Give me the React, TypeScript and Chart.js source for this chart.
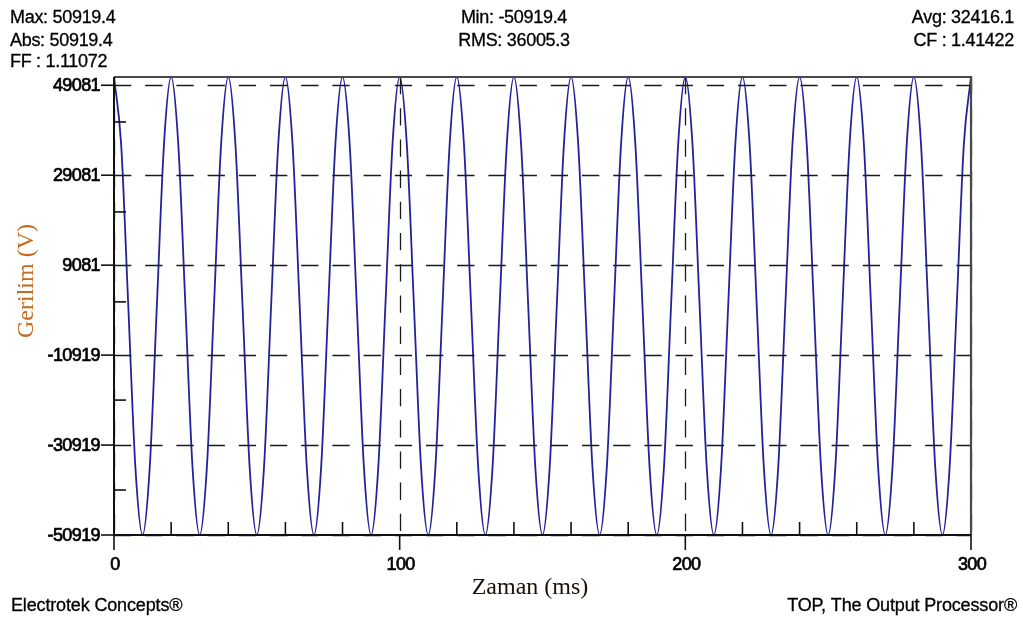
import { useEffect, useRef } from "react";
import { Chart, registerables } from "chart.js";
Chart.register(...registerables);

// Time samples (ms)
const timeMs = [
  0, 2.5, 5, 7.5, 10, 12.5, 15, 17.5,
  20, 22.5, 25, 27.5, 30, 32.5, 35, 37.5,
  40, 42.5, 45, 47.5, 50, 52.5, 55, 57.5,
  60, 62.5, 65, 67.5, 70, 72.5, 75, 77.5,
  80, 82.5, 85, 87.5, 90, 92.5, 95, 97.5,
  100, 102.5, 105, 107.5, 110, 112.5, 115, 117.5,
  120, 122.5, 125, 127.5, 130, 132.5, 135, 137.5,
  140, 142.5, 145, 147.5, 150, 152.5, 155, 157.5,
  160, 162.5, 165, 167.5, 170, 172.5, 175, 177.5,
  180, 182.5, 185, 187.5, 190, 192.5, 195, 197.5,
  200, 202.5, 205, 207.5, 210, 212.5, 215, 217.5,
  220, 222.5, 225, 227.5, 230, 232.5, 235, 237.5,
  240, 242.5, 245, 247.5, 250, 252.5, 255, 257.5,
  260, 262.5, 265, 267.5, 270, 272.5, 275, 277.5,
  280, 282.5, 285, 287.5, 290, 292.5, 295, 297.5,
  300,
];

// Voltage samples (V)
const voltage = [
  50919, 36005, 0, -36005, -50919, -36005, 0, 36005,
  50919, 36005, 0, -36005, -50919, -36005, 0, 36005,
  50919, 36005, 0, -36005, -50919, -36005, 0, 36005,
  50919, 36005, 0, -36005, -50919, -36005, 0, 36005,
  50919, 36005, 0, -36005, -50919, -36005, 0, 36005,
  50919, 36005, 0, -36005, -50919, -36005, 0, 36005,
  50919, 36005, 0, -36005, -50919, -36005, 0, 36005,
  50919, 36005, 0, -36005, -50919, -36005, 0, 36005,
  50919, 36005, 0, -36005, -50919, -36005, 0, 36005,
  50919, 36005, 0, -36005, -50919, -36005, 0, 36005,
  50919, 36005, 0, -36005, -50919, -36005, 0, 36005,
  50919, 36005, 0, -36005, -50919, -36005, 0, 36005,
  50919, 36005, 0, -36005, -50919, -36005, 0, 36005,
  50919, 36005, 0, -36005, -50919, -36005, 0, 36005,
  50919, 36005, 0, -36005, -50919, -36005, 0, 36005,
  50919,
];

const yTicks = [49081, 29081, 9081, -10919, -30919, -50919];
const yMinorTicks = [40919, 20919, 919, -20919, -40919];
const xTicks = [0, 100, 200, 300];
const xMinorTicks = [20, 40, 60, 80, 120, 140, 160, 180, 220, 240, 260, 280];

const statsLeft = ["Max: 50919.4", "Abs: 50919.4", "FF : 1.11072"];
const statsCenter = ["Min: -50919.4", "RMS: 36005.3"];
const statsRight = ["Avg: 32416.1", "CF : 1.41422"];
const footerLeft = "Electrotek Concepts®";
const footerRight = "TOP, The Output Processor®";
const yTitle = "Gerilim (V)";
const xTitle = "Zaman (ms)";

const SANS = '"Liberation Sans", Arial, sans-serif';
const SERIF = '"Liberation Serif", "Times New Roman", serif';

function heavyText(ctx: CanvasRenderingContext2D, t: string, x: number, y: number, w: number) {
  ctx.fillText(t, x, y);
  ctx.lineWidth = w;
  ctx.strokeStyle = ctx.fillStyle as string;
  ctx.strokeText(t, x, y);
}

const decor = {
  id: "decor",
  afterDatasetsDraw(chart: any) {
    const { ctx, chartArea: a, scales } = chart;
    const x = scales.x;
    const y = scales.y;
    ctx.save();

    // dashed grid
    ctx.strokeStyle = "#1a1a1a";
    ctx.lineWidth = 1.3;
    ctx.setLineDash([17.3, 13.9]);
    yTicks.forEach((v) => {
      const py = Math.round(y.getPixelForValue(v)) + 0.5;
      ctx.beginPath();
      ctx.moveTo(a.left, py);
      ctx.lineTo(a.right, py);
      ctx.stroke();
    });
    xTicks.forEach((v) => {
      const px = Math.round(x.getPixelForValue(v)) + 0.5;
      ctx.beginPath();
      ctx.moveTo(px, a.top);
      ctx.lineTo(px, a.bottom);
      ctx.stroke();
    });
    ctx.setLineDash([]);

    // top & right border
    ctx.strokeStyle = "#4a4a4a";
    ctx.lineWidth = 2.2;
    ctx.beginPath();
    ctx.moveTo(a.left, a.top);
    ctx.lineTo(a.right, a.top);
    ctx.lineTo(a.right, a.bottom);
    ctx.stroke();

    // left & bottom axes
    ctx.strokeStyle = "#111";
    ctx.lineWidth = 2;
    ctx.beginPath();
    ctx.moveTo(a.left, a.top);
    ctx.lineTo(a.left, a.bottom);
    ctx.lineTo(a.right, a.bottom);
    ctx.stroke();

    // ticks
    ctx.lineWidth = 1.6;
    yTicks.forEach((v) => {
      const py = y.getPixelForValue(v);
      ctx.beginPath();
      ctx.moveTo(a.left - 13, py);
      ctx.lineTo(a.left, py);
      ctx.stroke();
    });
    yMinorTicks.forEach((v) => {
      const py = y.getPixelForValue(v);
      ctx.beginPath();
      ctx.moveTo(a.left, py);
      ctx.lineTo(a.left + 12, py);
      ctx.stroke();
    });
    xTicks.forEach((v) => {
      const px = x.getPixelForValue(v);
      ctx.beginPath();
      ctx.moveTo(px, a.bottom);
      ctx.lineTo(px, a.bottom + 15);
      ctx.stroke();
    });
    xMinorTicks.forEach((v) => {
      const px = x.getPixelForValue(v);
      ctx.beginPath();
      ctx.moveTo(px, a.bottom);
      ctx.lineTo(px, a.bottom - 13);
      ctx.stroke();
    });

    // tick labels
    ctx.fillStyle = "#000";
    ctx.font = `18px ${SANS}`;
    (ctx as any).letterSpacing = "-0.6px";
    ctx.textAlign = "right";
    ctx.textBaseline = "middle";
    yTicks.forEach((v) => {
      heavyText(ctx, String(v), a.left - 14, y.getPixelForValue(v) + 1, 0.7);
    });
    ctx.textAlign = "center";
    ctx.textBaseline = "alphabetic";
    xTicks.forEach((v) => {
      heavyText(ctx, String(v), x.getPixelForValue(v) + 1, a.bottom + 35, 0.7);
    });

    // header stats
    ctx.font = `18px ${SANS}`;
    (ctx as any).letterSpacing = "-0.3px";
    ctx.textAlign = "left";
    const leftBase = [23, 46, 67];
    statsLeft.forEach((t, i) => heavyText(ctx, t, 10, leftBase[i], 0.3));
    ctx.textAlign = "center";
    statsCenter.forEach((t, i) => heavyText(ctx, t, 514, leftBase[i], 0.3));
    ctx.textAlign = "right";
    statsRight.forEach((t, i) => heavyText(ctx, t, 1014, leftBase[i], 0.3));

    // footer
    (ctx as any).letterSpacing = "-0.15px";
    ctx.textAlign = "left";
    heavyText(ctx, footerLeft, 11, 611, 0.3);
    ctx.textAlign = "right";
    heavyText(ctx, footerRight, 1017, 611, 0.3);
    (ctx as any).letterSpacing = "0px";

    // axis titles
    ctx.font = `24px ${SERIF}`;
    ctx.textAlign = "center";
    ctx.fillStyle = "#1a1208";
    ctx.fillText(xTitle, 530, 594);
    ctx.save();
    ctx.translate(33, 281);
    ctx.rotate(-Math.PI / 2);
    ctx.fillStyle = "#c46a1c";
    ctx.textBaseline = "alphabetic";
    ctx.fillText(yTitle, 0, 0);
    ctx.restore();

    ctx.restore();
  },
};

export default function App() {
  const ref = useRef<HTMLCanvasElement | null>(null);
  useEffect(() => {
    document.body.style.margin = "0";
    const canvas = ref.current!;
    const chart = new Chart(canvas, {
      type: "line",
      data: {
        datasets: [
          {
            data: timeMs.map((t, i) => ({ x: t, y: voltage[i] })),
            borderColor: "#22229a",
            borderWidth: 1.8,
            pointRadius: 0,
            fill: false,
            cubicInterpolationMode: "monotone",
          },
        ],
      },
      options: {
        animation: false,
        responsive: false,
        devicePixelRatio: 1,
        layout: { padding: { left: 114, right: 52, top: 77, bottom: 87 } },
        plugins: { legend: { display: false }, tooltip: { enabled: false } },
        scales: {
          x: { type: "linear", min: 0, max: 300, display: false },
          y: { type: "linear", min: -50919, max: 50919, display: false },
        },
      },
      plugins: [decor],
    });
    return () => chart.destroy();
  }, []);
  return (
    <div style={{ width: 1023, height: 622, background: "#fff" }}>
      <canvas ref={ref} width={1023} height={622} style={{ display: "block" }} />
    </div>
  );
}
